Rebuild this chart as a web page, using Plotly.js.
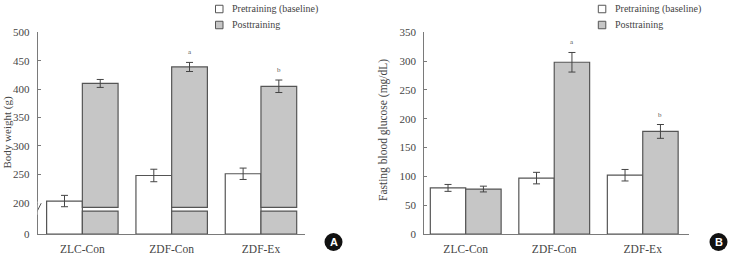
<!DOCTYPE html>
<html>
<head>
<meta charset="utf-8">
<script src="https://cdn.plot.ly/plotly-3.0.1.min.js"></script>
<style>
  html, body { margin: 0; padding: 0; background: #fff; }
  #chart { width: 730px; height: 257px; }
</style>
</head>
<body>
<div id="chart"></div>
<script>
// Groups and measurements (mean ± SEM)
const categories = ['ZLC-Con', 'ZDF-Con', 'ZDF-Ex'];

const weightPre = [203, 248, 251];
const weightPreErr = [10, 11, 10];
const weightPost = [410, 439, 405];
const weightPostErr = [7, 8, 11];
const weightMarks = ['', 'a', 'b'];
const weightTicks = [0, 200, 250, 300, 350, 400, 450, 500];

const glucosePre = [80, 97, 102];
const glucosePreErr = [6, 10, 10];
const glucosePost = [78, 298, 178];
const glucosePostErr = [5, 17, 12];
const glucoseMarks = ['', 'a', 'b'];
const glucoseTicks = [0, 50, 100, 150, 200, 250, 300, 350];

const legendNames = ['Pretraining (baseline)', 'Posttraining'];

// ---- page geometry ----
const W = 730, H = 257;
const px = v => v / W;          // pixel -> paper x
const py = v => 1 - v / H;      // pixel -> paper y

// Body-weight axis is broken: values >= 200 are linear, 0 sits below the break
const AX0 = 145;        // axis position of the value 0
const BREAK_LO = 185.4; // top of the short stub under the break
const BREAK_HI = 191.7; // where the upper part of a bar resumes
const BREAK_MID = 190.4;
const toWeightAxis = v => (v === 0 ? AX0 : v);

const FONT = 'Liberation Serif, Times New Roman, serif';
const TXT = '#454545';
const LINE = '#7a7a7a';
const EDGE = '#555555';
const GREY = '#c6c6c6';
const BAR_W = 0.4;

const idx = categories.map((_, i) => i);

function errSpec(arr) {
  return { type: 'data', array: arr, visible: true, color: '#444', thickness: 1, width: 3.5 };
}

const traces = [
  // panel A: body weight
  {
    type: 'bar', xaxis: 'x', yaxis: 'y', x: idx,
    base: idx.map(() => AX0), y: weightPre.map(v => v - AX0),
    width: BAR_W, offset: -BAR_W,
    marker: { color: '#ffffff', line: { color: EDGE, width: 1.2 } },
    error_y: errSpec(weightPreErr), name: legendNames[0], showlegend: false, hoverinfo: 'skip'
  },
  {
    type: 'bar', xaxis: 'x', yaxis: 'y', x: idx,
    base: idx.map(() => AX0), y: idx.map(() => BREAK_LO - AX0),
    width: BAR_W, offset: 0,
    marker: { color: GREY, line: { color: EDGE, width: 1.2 } },
    name: legendNames[1], showlegend: false, hoverinfo: 'skip'
  },
  {
    type: 'bar', xaxis: 'x', yaxis: 'y', x: idx,
    base: idx.map(() => BREAK_HI), y: weightPost.map(v => v - BREAK_HI),
    width: BAR_W, offset: 0,
    marker: { color: GREY, line: { color: EDGE, width: 1.2 } },
    error_y: errSpec(weightPostErr), name: legendNames[1], showlegend: false, hoverinfo: 'skip'
  },
  // panel B: fasting blood glucose
  {
    type: 'bar', xaxis: 'x2', yaxis: 'y2', x: idx, y: glucosePre,
    width: BAR_W, offset: -BAR_W,
    marker: { color: '#ffffff', line: { color: EDGE, width: 1.2 } },
    error_y: errSpec(glucosePreErr), name: legendNames[0], showlegend: false, hoverinfo: 'skip'
  },
  {
    type: 'bar', xaxis: 'x2', yaxis: 'y2', x: idx, y: glucosePost,
    width: BAR_W, offset: 0,
    marker: { color: GREY, line: { color: EDGE, width: 1.2 } },
    error_y: errSpec(glucosePostErr), name: legendNames[1], showlegend: false, hoverinfo: 'skip'
  }
];

const tickFont = { family: FONT, size: 11, color: TXT };
const catFont = { family: FONT, size: 11.5, color: TXT };

function xAxis(domain, range, anchor) {
  return {
    domain, range, anchor,
    tickvals: idx, ticktext: categories, tickfont: catFont,
    showline: true, linecolor: LINE, linewidth: 1,
    ticks: '', ticklabelstandoff: 4,
    showgrid: false, zeroline: false, fixedrange: true
  };
}
function yAxis(domain, range, anchor, vals, text) {
  return {
    domain, range, anchor,
    tickvals: vals, ticktext: text, tickfont: tickFont,
    showline: true, linecolor: LINE, linewidth: 1,
    ticks: 'inside', ticklen: 3, tickcolor: LINE, ticklabelstandoff: 5,
    showgrid: false, zeroline: false, fixedrange: true
  };
}

const yDom = [py(234), py(32.3)];

const annotations = [];
// significance letters above the posttraining error bars
function addMarks(marks, vals, errs, xref, yref) {
  marks.forEach((m, i) => {
    if (!m) return;
    annotations.push({
      xref, yref, x: i + BAR_W / 2, y: vals[i] + errs[i],
      text: m, showarrow: false, yanchor: 'bottom', yshift: 4,
      font: { family: FONT, size: 7, color: '#555' }
    });
  });
}
addMarks(weightMarks, weightPost, weightPostErr, 'x', 'y');
addMarks(glucoseMarks, glucosePost, glucosePostErr, 'x2', 'y2');

// axis titles
annotations.push({
  xref: 'paper', yref: 'paper', x: px(6.5), y: py(133), textangle: -90,
  text: 'Body weight (g)', showarrow: false, xanchor: 'center', yanchor: 'middle',
  font: { family: FONT, size: 11, color: TXT }
});
annotations.push({
  xref: 'paper', yref: 'paper', x: px(383), y: py(130), textangle: -90,
  text: 'Fasting blood glucose (mg/dL)', showarrow: false, xanchor: 'center', yanchor: 'middle',
  font: { family: FONT, size: 11.5, color: TXT }
});

const shapes = [];

// legends (one per panel)
function addLegend(boxX, textX) {
  const rows = [9, 25];
  const fills = ['#ffffff', GREY];
  rows.forEach((ry, k) => {
    shapes.push({
      type: 'rect', xref: 'paper', yref: 'paper',
      x0: px(boxX), x1: px(boxX + 7.5), y0: py(ry + 3.75), y1: py(ry - 3.75),
      fillcolor: fills[k], line: { color: EDGE, width: 1 }
    });
    annotations.push({
      xref: 'paper', yref: 'paper', x: px(textX), y: py(ry),
      xanchor: 'left', yanchor: 'middle', showarrow: false,
      text: legendNames[k], font: { family: FONT, size: 10, color: TXT }
    });
  });
}
addLegend(215.5, 230);
addLegend(598.3, 613);

// panel badges
function addBadge(cx, cy, label) {
  shapes.push({
    type: 'circle', xref: 'paper', yref: 'paper',
    x0: px(cx - 9), x1: px(cx + 9), y0: py(cy + 9), y1: py(cy - 9),
    fillcolor: '#111', line: { width: 0 }
  });
  annotations.push({
    xref: 'paper', yref: 'paper', x: px(cx), y: py(cy),
    xanchor: 'center', yanchor: 'middle', showarrow: false,
    text: '<b>' + label + '</b>', font: { family: 'Liberation Sans, Arial, sans-serif', size: 11, color: '#fff' }
  });
}
addBadge(333.5, 242, 'A');
addBadge(718.5, 242, 'B');

// break on the body-weight axis: gap in the axis line plus two slashes
shapes.push({
  type: 'rect', xref: 'x', yref: 'y', layer: 'above',
  xsizemode: 'pixel', xanchor: -0.5, x0: -6, x1: 5,
  ysizemode: 'pixel', yanchor: BREAK_MID, y0: -6.6, y1: 6.6,
  fillcolor: '#ffffff', line: { width: 0 }
});
[[-5, 0], [-1.5, 3.5]].forEach(([a, b]) => {
  shapes.push({
    type: 'line', xref: 'x', yref: 'y', layer: 'above',
    xsizemode: 'pixel', xanchor: -0.5, x0: a, x1: b,
    ysizemode: 'pixel', yanchor: BREAK_MID, y0: -5, y1: 5,
    line: { color: '#555', width: 1 }
  });
});

const layout = {
  width: W, height: H,
  margin: { l: 0, r: 0, t: 0, b: 0 },
  paper_bgcolor: '#fff', plot_bgcolor: '#fff',
  barmode: 'overlay',
  showlegend: false,
  font: { family: FONT, color: TXT },
  xaxis: xAxis([px(37.7), px(305)], [-0.5, 2.493], 'y'),
  yaxis: yAxis(yDom, [AX0, 500], 'x', weightTicks.map(toWeightAxis), weightTicks.map(String)),
  xaxis2: xAxis([px(424.3), px(689.3)], [-0.468, 2.526], 'y2'),
  yaxis2: yAxis(yDom, [0, 350], 'x2', glucoseTicks, glucoseTicks.map(String)),
  annotations, shapes
};

Plotly.newPlot('chart', traces, layout, { staticPlot: true, displayModeBar: false });
</script>
</body>
</html>
